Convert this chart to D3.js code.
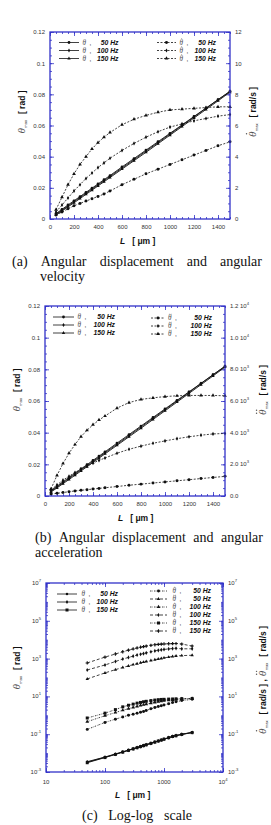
<!DOCTYPE html>
<html>
<head>
<meta charset="utf-8">
<script src="https://cdn.jsdelivr.net/npm/d3@7"></script>
<style>
body { margin: 0; background: #fff; }
svg { display: block; }
</style>
</head>
<body>
<svg id="rys" width="271" height="825"></svg>
<script>
// dane - wykresy (a) i (b), os L w mikrometrach
const dlugosc = [50,100,150,200,250,300,350,400,450,500,600,700,800,900,1000,1100,1200,1300,1400,1500];

// kat [rad]
const theta50  = [0.0035,0.0062,0.0090,0.0117,0.0144,0.0171,0.0198,0.0225,0.0252,0.0279,0.0334,0.0388,0.0442,0.0496,0.0550,0.0604,0.0658,0.0712,0.0766,0.0820];
const theta100 = [0.0030,0.0057,0.0084,0.0111,0.0138,0.0165,0.0192,0.0219,0.0246,0.0273,0.0327,0.0381,0.0436,0.0490,0.0545,0.0600,0.0655,0.0710,0.0765,0.0818];
const theta150 = [0.0025,0.0051,0.0078,0.0104,0.0131,0.0158,0.0185,0.0212,0.0239,0.0266,0.0320,0.0374,0.0428,0.0483,0.0538,0.0593,0.0648,0.0703,0.0758,0.0814];

// predkosc katowa [rad/s]
const omega50  = [0.25,0.45,0.65,0.85,1.0,1.15,1.3,1.45,1.6,1.8,2.2,2.55,2.9,3.2,3.5,3.8,4.1,4.4,4.7,4.95];
const omega100 = [0.45,0.9,1.35,1.8,2.2,2.6,2.95,3.3,3.6,3.9,4.4,4.85,5.25,5.6,5.9,6.1,6.3,6.45,6.6,6.7];
const omega150 = [0.6,1.4,2.2,2.9,3.5,4.0,4.5,4.9,5.25,5.55,6.05,6.4,6.65,6.85,7.0,7.05,7.1,7.15,7.2,7.2];

// przyspieszenie katowe [rad/s^2]
const eps50  = [120,170,220,270,320,360,400,440,480,520,600,680,750,820,890,960,1030,1100,1170,1240];
const eps100 = [380,700,1000,1250,1480,1700,1900,2080,2250,2400,2700,2950,3150,3330,3480,3620,3740,3840,3920,3950];
const eps150 = [450,1300,2050,2700,3250,3750,4150,4500,4800,5050,5550,5900,6100,6200,6280,6330,6350,6350,6350,6330];

// dane - wykres (c), skala log-log
const dlugoscLog = [50,100,150,200,250,300,350,400,450,500,600,700,800,900,1000,1200,1400,1600,2000,3000];
const thetaLog50  = [0.0035,0.0062,0.0090,0.0117,0.0144,0.0171,0.0198,0.0225,0.0252,0.0279,0.0334,0.0388,0.0442,0.0496,0.0550,0.0658,0.0766,0.085,0.100,0.125];
const thetaLog100 = [0.0033,0.0060,0.0087,0.0114,0.0141,0.0168,0.0195,0.0222,0.0249,0.0276,0.0330,0.0384,0.0438,0.0492,0.0546,0.0654,0.0762,0.084,0.098,0.123];
const thetaLog150 = [0.0031,0.0058,0.0085,0.0112,0.0139,0.0166,0.0193,0.0220,0.0247,0.0274,0.0327,0.0381,0.0435,0.0489,0.0543,0.0650,0.0758,0.083,0.097,0.121];
const omegaLog50  = [0.18,0.42,0.62,0.82,1.0,1.15,1.3,1.45,1.6,1.8,2.2,2.55,2.9,3.2,3.5,4.1,4.7,5.2,6.0,7.0];
const omegaLog100 = [0.46,0.95,1.4,1.85,2.25,2.6,2.95,3.3,3.6,3.9,4.4,4.85,5.25,5.6,5.9,6.3,6.6,6.9,7.3,7.7];
const omegaLog150 = [0.72,1.3,2.0,2.8,3.4,3.9,4.4,4.8,5.2,5.5,6.0,6.4,6.7,6.9,7.0,7.2,7.3,7.4,7.6,7.8];
const epsLog50  = [84,175,260,340,410,480,540,600,650,700,790,870,950,1020,1090,1200,1300,1380,1440,1500];
const epsLog100 = [250,460,700,950,1150,1350,1550,1700,1850,2000,2300,2550,2750,2900,3050,3250,3400,3500,3300,3300];
const epsLog150 = [590,1200,1750,2300,2800,3250,3650,4000,4300,4600,5050,5400,5650,5850,5950,6100,6200,6250,5900,4600];

// podzialki
const xTicks = [0,200,400,600,800,1000,1200,1400];
const yTicksRad = [0,0.02,0.04,0.06,0.08,0.1,0.12];
const yTicksOmega = [0,2,4,6,8,10,12];
const yTicksEps = [0,2000,4000,6000,8000,10000,12000];
const yLabelsEps = [['0.0',''],['2.0 10','3'],['4.0 10','3'],['6.0 10','3'],['8.0 10','3'],['1.0 10','4'],['1.2 10','4']];
const xTicksLog = [10,100,1000,10000];
const xLabelsLog = [['10',''],['100',''],['1000',''],['10','4']];
const yTicksLog = [1e-3,1e-1,1e1,1e3,1e5,1e7];
const yLabelsLog = [['10','-3'],['10','-1'],['10','1'],['10','3'],['10','5'],['10','7']];

const NIEB = '#3232c8';
const SANS = 'Liberation Sans, Arial, sans-serif';
const SERIF = 'Liberation Serif, Times New Roman, serif';

const svg = d3.select('#rys');

function marker(g, typ, cx, cy, rozm) {
	g.append('path')
		.attr('d', d3.symbol().type(typ).size(rozm)())
		.attr('transform', `translate(${cx},${cy})`)
		.attr('fill', '#111');
}

function potega(g, x, y, podst, wyk, anchor) {
	let t = g.append('text').attr('x', x).attr('y', y)
		.attr('font-family', SANS).attr('font-size', 6).attr('fill', '#333')
		.attr('text-anchor', anchor);
	t.append('tspan').text(podst);
	if (wyk) t.append('tspan').attr('dy', -3).attr('font-size', 4.2).text(wyk);
}

// theta (kursywa) z kropkami nad litera jako male kolka; zwraca szerokosc
function theta(g, x, y, fs, kropki) {
	const t = g.append('text').attr('x', x).attr('y', y)
		.attr('font-family', SERIF).attr('font-style', 'italic')
		.attr('font-size', fs).attr('fill', '#555').text('θ');
	const w = t.node().getComputedTextLength();
	const r = fs * 0.065;
	const sx = x + w * 0.62, sy = y - fs * 0.86;
	const poz = kropki === 1 ? [0] : kropki === 2 ? [-fs * 0.13, fs * 0.13] : [];
	poz.forEach(d => g.append('circle').attr('cx', sx + d).attr('cy', sy).attr('r', r).attr('fill', '#555'));
	return w;
}

function rysujPanel(p) {
	const g = svg.append('g');
	const x = (p.log ? d3.scaleLog() : d3.scaleLinear()).domain(p.xDom).range([p.x0, p.x1]);
	const yL = (p.log ? d3.scaleLog() : d3.scaleLinear()).domain(p.yDomL).range([p.y1, p.y0]);
	const yR = (p.log ? d3.scaleLog() : d3.scaleLinear()).domain(p.yDomR).range([p.y1, p.y0]);

	function os(axis, tx, ty, size, values, fmt, pad) {
		const a = axis.tickValues(values).tickSize(-size).tickPadding(pad || 4).tickFormat(fmt || '');
		const gg = g.append('g').attr('transform', `translate(${tx},${ty})`).call(a);
		gg.select('.domain').remove();
		gg.selectAll('line').attr('stroke', NIEB).attr('stroke-width', 0.8);
		gg.selectAll('text').attr('font-family', SANS).attr('font-size', 6).attr('fill', '#333');
		if (!fmt) gg.selectAll('text').remove();
		return gg;
	}

	// male podzialki
	os(d3.axisBottom(x), 0, p.y1, 2, p.xMinor);
	os(d3.axisTop(x), 0, p.y0, 2, p.xMinor);
	os(d3.axisLeft(yL), p.x0, 0, 2, p.yMinorL);
	os(d3.axisRight(yR), p.x1, 0, 2, p.yMinorR);
	// duze podzialki
	os(d3.axisTop(x), 0, p.y0, 4, p.xMajor);
	os(d3.axisBottom(x), 0, p.y1, 4, p.xMajor, p.xLabels ? null : d3.format('d'), 6);
	os(d3.axisLeft(yL), p.x0, 0, 4, p.yMajorL, p.yLabelsL ? null : (d => d === 0 ? '0' : String(d)), 5);
	os(d3.axisRight(yR), p.x1, 0, 4, p.yMajorR, p.yLabelsR ? null : (d => String(d)), 5);

	if (p.xLabels) p.xMajor.forEach((v, i) => potega(g, x(v), p.y1 + 12, p.xLabels[i][0], p.xLabels[i][1], 'middle'));
	if (p.yLabelsL) p.yMajorL.forEach((v, i) => potega(g, p.x0 - 5, yL(v) + 2, p.yLabelsL[i][0], p.yLabelsL[i][1], 'end'));
	if (p.yLabelsR) p.yMajorR.forEach((v, i) => potega(g, p.x1 + 5, yR(v) + 2, p.yLabelsR[i][0], p.yLabelsR[i][1], 'start'));

	// serie
	const plot = g.append('g');
	p.serie.forEach(s => {
		const y = s.os === 'R' ? yR : yL;
		const pts = s.x.map((d, i) => [x(d), y(s.y[i])]);
		plot.append('path')
			.attr('d', d3.line()(pts))
			.attr('fill', 'none')
			.attr('stroke', '#111')
			.attr('stroke-width', s.dash ? 0.8 : 0.9)
			.attr('stroke-dasharray', s.dash || null);
		pts.forEach(q => marker(plot, s.sym, q[0], q[1], s.rozm));
	});

	// ramka
	g.append('rect').attr('x', p.x0).attr('y', p.y0)
		.attr('width', p.x1 - p.x0).attr('height', p.y1 - p.y0)
		.attr('fill', 'none').attr('stroke', NIEB).attr('stroke-width', 1.3);

	// legenda
	p.serie.forEach(s => {
		const L = s.leg;
		g.append('line').attr('x1', L[0]).attr('x2', L[1]).attr('y1', L[5]).attr('y2', L[5])
			.attr('stroke', '#111').attr('stroke-width', 0.8)
			.attr('stroke-dasharray', s.dash || null);
		marker(g, s.sym, (L[0] + L[1]) / 2, L[5], s.rozm);
		theta(g, L[2], L[5] + 2.3, 7.2, s.kropki);
		g.append('text').attr('x', L[3]).attr('y', L[5] + 2.3)
			.attr('font-family', SANS).attr('font-size', 6.5).attr('fill', '#333').text(',');
		g.append('text').attr('x', L[4]).attr('y', L[5] + 2.3).attr('text-anchor', 'end')
			.attr('font-family', SANS).attr('font-weight', 'bold').attr('font-style', 'italic')
			.attr('font-size', 6.8).attr('fill', '#111').text(s.hz);
	});

	// opis osi X
	const tx = g.append('text').attr('x', p.xTyt[0]).attr('y', p.xTyt[1])
		.attr('font-family', SANS).attr('font-weight', 'bold').attr('font-size', 8.5).attr('fill', '#111');
	tx.append('tspan').attr('font-style', 'italic').text('L');
	tx.append('tspan').attr('dx', 7).text('[ μm ]');

	// opisy osi Y - obrocone, kawalki ukladane po kolei i centrowane
	p.yTyt.forEach(t => {
		const gr = g.append('g').attr('transform', `translate(${t.x},${t.y}) rotate(-90)`);
		let xx = 0;
		t.czesci.forEach((c, i) => {
			if (i > 0) xx += 3;
			xx += theta(gr, xx, 0, 11, c[0]) + 0.5;
			const m = gr.append('text').attr('x', xx).attr('y', 2)
				.attr('font-family', SANS).attr('font-size', 4).attr('fill', '#333').text('max');
			xx += m.node().getComputedTextLength() + 6;
			const u = gr.append('text').attr('x', xx).attr('y', 0)
				.attr('font-family', SANS).attr('font-weight', 'bold')
				.attr('font-size', 8.5).attr('fill', '#111').text(c[1]);
			xx += u.node().getComputedTextLength();
		});
		gr.selectAll('*').each(function () {
			const el = d3.select(this);
			const k = this.tagName === 'circle' ? 'cx' : 'x';
			el.attr(k, +el.attr(k) - xx / 2);
		});
	});
}

function minorLin(a, b, k) { return d3.range(a, b + k / 2, k); }
function minorLog(a, b) {
	const w = [];
	for (let e = a; e < b; e++) for (let m = 1; m < 10; m++) w.push(m * Math.pow(10, e));
	w.push(Math.pow(10, b));
	return w;
}

// (a) kat i predkosc katowa
rysujPanel({
	x0: 50, x1: 230, y0: 32, y1: 219,
	xDom: [0, 1500], yDomL: [0, 0.12], yDomR: [0, 12],
	xMajor: xTicks, xMinor: minorLin(0, 1500, 50),
	yMajorL: yTicksRad, yMinorL: minorLin(0, 0.12, 0.005),
	yMajorR: yTicksOmega, yMinorR: minorLin(0, 12, 0.5),
	xTyt: [120, 244],
	yTyt: [{x: 25, y: 112, czesci: [[0, '[ rad ]']]}, {x: 256, y: 112, czesci: [[1, '[ rad/s ]']]}],
	serie: [
		{x: dlugosc, y: theta50, os: 'L', sym: d3.symbolCircle, rozm: 6, kropki: 0, hz: '50 Hz', leg: [59, 79, 82.5, 89.5, 118.5, 42.5]},
		{x: dlugosc, y: theta100, os: 'L', sym: d3.symbolDiamond, rozm: 5, kropki: 0, hz: '100 Hz', leg: [59, 79, 82.5, 89.5, 118.5, 50.5]},
		{x: dlugosc, y: theta150, os: 'L', sym: d3.symbolTriangle, rozm: 5, kropki: 0, hz: '150 Hz', leg: [59, 79, 82.5, 89.5, 118.5, 58.5]},
		{x: dlugosc, y: omega50, os: 'R', dash: '2,1.5', sym: d3.symbolCircle, rozm: 7, kropki: 1, hz: '50 Hz', leg: [157, 176, 179.5, 186.5, 216, 42.5]},
		{x: dlugosc, y: omega100, os: 'R', dash: '2,1.5', sym: d3.symbolDiamond, rozm: 5, kropki: 1, hz: '100 Hz', leg: [157, 176, 179.5, 186.5, 216, 50.5]},
		{x: dlugosc, y: omega150, os: 'R', dash: '2,1.5', sym: d3.symbolTriangle, rozm: 6, kropki: 1, hz: '150 Hz', leg: [157, 176, 179.5, 186.5, 216, 58.5]}
	]
});

// (b) kat i przyspieszenie katowe
rysujPanel({
	x0: 45, x1: 225, y0: 306, y1: 496,
	xDom: [0, 1500], yDomL: [0, 0.12], yDomR: [0, 12000],
	xMajor: xTicks, xMinor: minorLin(0, 1500, 50),
	yMajorL: yTicksRad, yMinorL: minorLin(0, 0.12, 0.005),
	yMajorR: yTicksEps, yMinorR: minorLin(0, 12000, 500), yLabelsR: yLabelsEps,
	xTyt: [118, 521],
	yTyt: [{x: 20, y: 390, czesci: [[0, '[ rad ]']]}, {x: 266, y: 390, czesci: [[2, '[ rad/s ]']]}],
	serie: [
		{x: dlugosc, y: theta50, os: 'L', sym: d3.symbolCircle, rozm: 6, kropki: 0, hz: '50 Hz', leg: [53, 74, 77.5, 84.5, 115, 317]},
		{x: dlugosc, y: theta100, os: 'L', sym: d3.symbolDiamond, rozm: 5, kropki: 0, hz: '100 Hz', leg: [53, 74, 77.5, 84.5, 115, 325]},
		{x: dlugosc, y: theta150, os: 'L', sym: d3.symbolTriangle, rozm: 5, kropki: 0, hz: '150 Hz', leg: [53, 74, 77.5, 84.5, 115, 333]},
		{x: dlugosc, y: eps50, os: 'R', dash: '2,1.5', sym: d3.symbolCircle, rozm: 7, kropki: 2, hz: '50 Hz', leg: [151, 165, 168, 175, 212, 318]},
		{x: dlugosc, y: eps100, os: 'R', dash: '2,1.5', sym: d3.symbolDiamond, rozm: 5, kropki: 2, hz: '100 Hz', leg: [151, 165, 168, 175, 212, 326]},
		{x: dlugosc, y: eps150, os: 'R', dash: '2,1.5', sym: d3.symbolTriangle, rozm: 6, kropki: 2, hz: '150 Hz', leg: [151, 165, 168, 175, 212, 334]}
	]
});

// (c) skala log-log
rysujPanel({
	log: true,
	x0: 46, x1: 223, y0: 583, y1: 772,
	xDom: [10, 10000], yDomL: [1e-3, 1e7], yDomR: [1e-3, 1e7],
	xMajor: xTicksLog, xMinor: minorLog(1, 4), xLabels: xLabelsLog,
	yMajorL: yTicksLog, yMinorL: minorLog(-3, 7), yLabelsL: yLabelsLog,
	yMajorR: yTicksLog, yMinorR: minorLog(-3, 7), yLabelsR: yLabelsLog,
	xTyt: [115, 798],
	yTyt: [{x: 20, y: 668, czesci: [[0, '[ rad ]']]}, {x: 266, y: 680, czesci: [[1, '[ rad/s ] ,'], [2, '[ rad/s ]']]}],
	serie: [
		{x: dlugoscLog, y: thetaLog50, os: 'L', sym: d3.symbolCircle, rozm: 5, kropki: 0, hz: '50 Hz', leg: [57, 77, 81.5, 88.5, 118, 594]},
		{x: dlugoscLog, y: thetaLog100, os: 'L', sym: d3.symbolDiamond, rozm: 5, kropki: 0, hz: '100 Hz', leg: [57, 77, 81.5, 88.5, 118, 602]},
		{x: dlugoscLog, y: thetaLog150, os: 'L', sym: d3.symbolSquare, rozm: 9, kropki: 0, hz: '150 Hz', leg: [57, 77, 81.5, 88.5, 118, 610]},
		{x: dlugoscLog, y: omegaLog50, os: 'R', dash: '1.5,1,0.5,1', sym: d3.symbolCircle, rozm: 7, kropki: 1, hz: '50 Hz', leg: [150, 167, 172.5, 179.5, 211, 591]},
		{x: dlugoscLog, y: epsLog50, os: 'R', dash: '3,2', sym: d3.symbolTriangle, rozm: 5, kropki: 2, hz: '50 Hz', leg: [150, 167, 172.5, 179.5, 211, 599]},
		{x: dlugoscLog, y: omegaLog100, os: 'R', dash: '1.5,1,0.5,1', sym: d3.symbolTriangle, rozm: 6, kropki: 1, hz: '100 Hz', leg: [150, 167, 172.5, 179.5, 211, 607]},
		{x: dlugoscLog, y: epsLog100, os: 'R', dash: '3,2', sym: d3.symbolDiamond, rozm: 5, kropki: 2, hz: '100 Hz', leg: [150, 167, 172.5, 179.5, 211, 615]},
		{x: dlugoscLog, y: omegaLog150, os: 'R', dash: '1.5,1,0.5,1', sym: d3.symbolSquare, rozm: 9, kropki: 1, hz: '150 Hz', leg: [150, 167, 172.5, 179.5, 211, 623]},
		{x: dlugoscLog, y: epsLog150, os: 'R', dash: '3,2', sym: d3.symbolCross, rozm: 6, kropki: 2, hz: '150 Hz', leg: [150, 167, 172.5, 179.5, 211, 631]}
	]
});

// podpisy pod wykresami - wyrownane do obu brzegow
function podpis(slowa, x0, x1, y) {
	const el = slowa.map(s => svg.append('text').attr('y', y)
		.attr('font-family', SERIF).attr('font-size', 14).attr('fill', '#111').text(s));
	const szer = el.map(e => e.node().getComputedTextLength());
	const odstep = slowa.length > 1 ? (x1 - x0 - d3.sum(szer)) / (slowa.length - 1) : 0;
	let xx = x0;
	el.forEach((e, i) => { e.attr('x', xx); xx += szer[i] + odstep; });
}
podpis(['(a)', 'Angular', 'displacement', 'and', 'angular'], 12, 262, 266);
podpis(['velocity'], 40, 40, 281);
podpis(['(b)', 'Angular', 'displacement', 'and', 'angular'], 35, 263, 542);
podpis(['acceleration'], 35, 35, 557);
podpis(['(c)', 'Log-log', 'scale'], 82, 192, 820);
</script>
</body>
</html>
